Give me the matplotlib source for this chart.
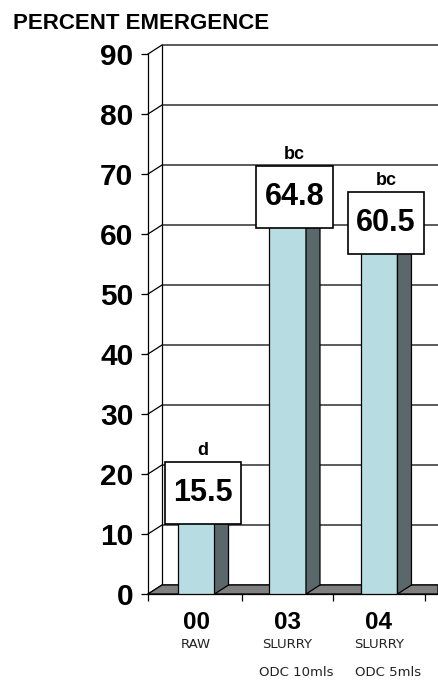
import matplotlib.pyplot as plt
from matplotlib.patches import Polygon, Rectangle

plt.rcParams['font.family'] = ['Liberation Sans', 'DejaVu Sans']

# data
categories = ['00', '03', '04']
sub_top = ['RAW', 'SLURRY', 'SLURRY']
sub_bottom = ['', 'ODC 10mls', 'ODC 5mls']
values = [15.5, 64.8, 60.5]
letters = ['d', 'bc', 'bc']
yticks = [0, 10, 20, 30, 40, 50, 60, 70, 80, 90]

front_color = '#b7dde2'
side_color = '#5b686b'
top_color = '#d9eef0'
floor_color = '#808080'

fig = plt.figure(figsize=(4.38, 6.81), dpi=100)
ax = fig.add_axes([148 / 438, 87 / 681, 290 / 438, 540 / 681])

xmin, xmax = -0.525, 2.645
dx, dy = 0.153, 1.5   # depth of the fake 3d effect
bw = 0.404
ax.set_xlim(xmin, xmax)
ax.set_ylim(0, 90)

# back wall: gridlines + connectors to the front axis
for k in yticks:
    ax.plot([xmin, xmin + dx, xmax], [k, k + dy, k + dy], color='black',
            lw=0.9, clip_on=False, zorder=1)
ax.plot([xmin + dx, xmin + dx], [dy, 90 + dy], color='black', lw=0.9,
        clip_on=False, zorder=1)

# floor
ax.add_patch(Polygon([(xmin, 0), (xmin + dx, dy), (xmax, dy), (xmax, 0)],
                     closed=True, fc=floor_color, ec='black', lw=0.9,
                     clip_on=False, zorder=2))

xs = list(range(len(values)))
ax.bar(xs, values, width=bw, color=front_color, edgecolor='black', lw=0.9,
       zorder=3)

for x, v, lab in zip(xs, values, letters):
    r = x + bw / 2
    l = x - bw / 2
    ax.add_patch(Polygon([(r, 0), (r + dx, dy), (r + dx, v + dy), (r, v)],
                         closed=True, fc=side_color, ec='black', lw=0.9,
                         zorder=3))
    ax.add_patch(Polygon([(l, v), (l + dx, v + dy), (r + dx, v + dy), (r, v)],
                         closed=True, fc=top_color, ec='black', lw=0.9,
                         zorder=3))
    # value box
    cx, cy = x + dx / 2, v + 1.4
    ax.add_patch(Rectangle((cx - 0.42, cy - 5.15), 0.84, 10.3, fc='white',
                           ec='black', lw=1.2, zorder=5, clip_on=False))
    ax.text(cx, cy, f'{v:.1f}', ha='center', va='center', fontsize=22,
            fontweight='bold', zorder=6)
    ax.text(cx, v + 7.7, lab, ha='center', va='baseline', fontsize=13,
            fontweight='bold', zorder=6)

# axes styling
for s in ['top', 'right']:
    ax.spines[s].set_visible(False)
for s in ['left', 'bottom']:
    ax.spines[s].set_linewidth(0.9)

ax.set_yticks(yticks)
ax.set_yticklabels([str(t) for t in yticks], fontsize=21.5, fontweight='bold')
ax.tick_params(axis='y', length=5, width=0.9, pad=5.5)

ax.set_xticks(xs)
ax.set_xticklabels(categories, fontsize=17.5, fontweight='bold')
ax.tick_params(axis='x', which='major', length=0, pad=12)
ax.set_xticks([xmin, 0.5, 1.5, 2.5], minor=True)
ax.tick_params(axis='x', which='minor', length=5, width=0.9)

for x, t1, t2 in zip(xs, sub_top, sub_bottom):
    ax.text(x, -8.5, t1, ha='center', va='center', fontsize=9.5,
            family='DejaVu Sans', color='#222222', clip_on=False)
    ax.text(x + 0.1, -13.0, t2, ha='center', va='center', fontsize=9.5,
            family='DejaVu Sans', color='#222222', clip_on=False)

fig.text(13 / 438, 1 - 23.5 / 681, 'PERCENT EMERGENCE', ha='left',
         va='center', fontsize=16, fontweight='bold')

fig.savefig('out.png', dpi=100)
